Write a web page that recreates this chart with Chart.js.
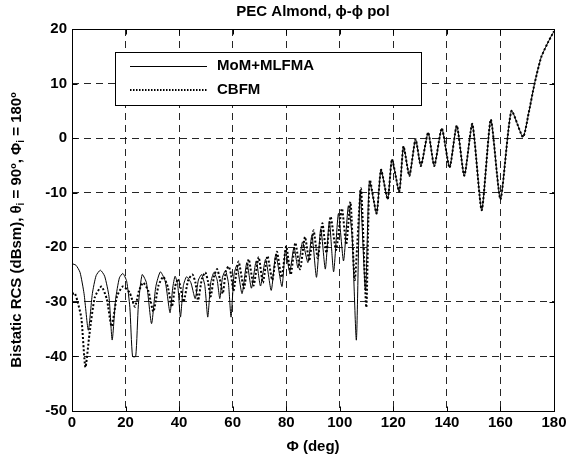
<!DOCTYPE html>
<html lang="en">
  <head>
    <meta charset="UTF-8" />
    <title>PEC Almond bistatic RCS</title>
    <script src="https://cdnjs.cloudflare.com/ajax/libs/Chart.js/4.4.1/chart.umd.min.js"></script>
  </head>
  <style>
    body {
      margin: 0;
      background-color: #ffffff;
    }
  </style>
  <body>
    <canvas id="rcsChart" width="571" height="459"></canvas>

    <script>
      // axis ticks
      const xTicks = [0, 20, 40, 60, 80, 100, 120, 140, 160, 180];
      const yTicks = [20, 10, 0, -10, -20, -30, -40, -50];

      // MoM+MLFMA (solid) - angles / values
      const momPhi = [0, 1.5, 3, 4.5, 6.1, 7.6, 9, 10.6, 12.2, 13.8, 15, 16.3, 17.7, 19, 20.4, 21.6, 22.6, 23.8, 24.8, 26.2, 27.8, 29.7, 31.3, 33, 34.8, 36.6, 37.6, 38.5, 39.5, 40.5, 41.6, 42.8, 44.4, 46, 47.2, 48.4, 49.6, 50.7, 51.8, 53, 54.2, 55.2, 56.2, 57.3, 58.4, 59.4, 60.5, 61.6, 63.5, 65.3, 67, 68.8, 70.4, 72.3, 74.4, 76.1, 78.4, 79.7, 81.3, 82.9, 84.4, 86.1, 88.1, 89.6, 91.3, 92.9, 94.6, 96.1, 97.7, 99.5, 101.4, 103.2, 104.6, 106.2, 107.6, 109.6, 111.1];
      const momRcs = [-23, -23.3, -24.6, -28.5, -35.2, -28.5, -25.2, -24.2, -25.3, -29, -37, -29.5, -25.6, -24.8, -26.2, -31, -40, -40, -30.5, -25, -26.5, -34, -27.2, -24.5, -26.2, -32, -27.5, -25.3, -27, -32.8, -27, -25.4, -26.5, -29.4, -26, -25, -27, -32.8, -26.5, -24.6, -26, -29.4, -25.5, -24.3, -26.5, -32.8, -25, -23.3, -28.5, -22.8, -27.5, -22.5, -27.1, -22.2, -27.9, -21.4, -27.2, -20.5, -24.5, -20, -23.8, -19, -22.8, -17.8, -25.5, -16.6, -24, -15.2, -24.5, -13.8, -22.5, -12.4, -18, -37, -9.6, -28, -7.9];

      // CBFM (dotted)
      const cbfmPhi = [0, 1, 2, 3.5, 5, 6.5, 8.5, 11, 13, 14.8, 16.8, 19, 21.5, 23.5, 25, 26.6, 28.5, 30.4, 32.3, 34.1, 35.8, 37.3, 38.5, 39.6, 40.6, 41.7, 43.4, 45, 46.1, 47.1, 48.5, 49.8, 50.8, 51.8, 53.1, 54.2, 55.2, 56.3, 57.5, 58.5, 59.4, 60.3, 62.2, 64.2, 66, 67.8, 69.7, 71.3, 73, 74.8, 76.5, 78.3, 80, 81.7, 83.4, 85.2, 87, 88.6, 90.2, 91.8, 93.5, 95, 96.6, 98.6, 100.8, 102.4, 104, 105.6, 107.9, 109.9, 111.2];
      const cbfmRcs = [-28.6, -28.4, -29.8, -33, -42, -36, -29.2, -27.2, -29.5, -34.5, -29, -27.2, -28.3, -30.9, -28, -26.5, -28, -31.8, -27, -25.4, -27.3, -30.9, -27.2, -25.8, -27.5, -30, -26, -25, -26.5, -29.7, -25.8, -24.6, -26.3, -29, -25.2, -24, -25.8, -28.5, -24.3, -23.5, -25, -28, -22.6, -27.5, -22.2, -27, -21.8, -26.5, -21.6, -26, -20.8, -25.5, -19.8, -25, -19.2, -24, -18.1, -22.5, -16.9, -22, -15.6, -21, -14.4, -20.5, -12.9, -19.5, -11.7, -26, -9.2, -31, -7.7];

      // beyond ~112 deg both methods give the same curve
      const tailPhi = [113.75, 115.4, 117.9, 119.5, 122.2, 123.8, 126, 128.3, 130.3, 133, 135.3, 138.1, 141, 143.7, 146.5, 149.5, 153, 156.4, 160, 164.1, 168.4, 170.5, 172.7, 175.2, 177.7, 180];
      const tailRcs = [-13.8, -5.8, -11.2, -3.9, -9.8, -1.5, -6.9, -0.2, -5.1, 1, -5.1, 1.8, -5.4, 2.3, -6.9, 2.6, -13.2, 3.4, -11.2, 5, 0.2, 4.5, 9.9, 14.8, 17.5, 19.6];

      const toPoints = (xs, ys) => xs.map((v, i) => ({ x: v, y: ys[i] }));

      const FONT = "'Liberation Sans', Arial, sans-serif";
      const LABEL = "bold 15px " + FONT;

      // frame, inner ticks, legend and titles (MATLAB look)
      const matlabFrame = {
        id: "matlabFrame",
        afterDatasetsDraw(chart) {
          const { ctx, chartArea: a, scales } = chart;
          const x = scales.x;
          const y = scales.y;
          ctx.save();
          ctx.strokeStyle = "#000";
          ctx.lineWidth = 1;
          ctx.setLineDash([]);

          const L = Math.round(a.left) + 0.5;
          const R = Math.round(a.right) + 0.5;
          const T = Math.round(a.top) + 0.5;
          const B = Math.round(a.bottom) + 0.5;
          ctx.strokeRect(L, T, R - L, B - T);

          ctx.beginPath();
          xTicks.forEach((v) => {
            const px = Math.round(x.getPixelForValue(v)) + 0.5;
            ctx.moveTo(px, T);
            ctx.lineTo(px, T + 5);
            ctx.moveTo(px, B);
            ctx.lineTo(px, B - 5);
          });
          yTicks.forEach((v) => {
            const py = Math.round(y.getPixelForValue(v)) + 0.5;
            ctx.moveTo(L, py);
            ctx.lineTo(L + 5, py);
            ctx.moveTo(R, py);
            ctx.lineTo(R - 5, py);
          });
          ctx.stroke();

          // legend box
          ctx.fillStyle = "#fff";
          ctx.fillRect(115.5, 52.5, 306, 53);
          ctx.strokeRect(115.5, 52.5, 306, 53);
          ctx.beginPath();
          ctx.moveTo(130, 66.5);
          ctx.lineTo(207, 66.5);
          ctx.stroke();
          ctx.lineWidth = 2;
          ctx.setLineDash([1.5, 1.5]);
          ctx.beginPath();
          ctx.moveTo(130, 90);
          ctx.lineTo(207, 90);
          ctx.stroke();
          ctx.setLineDash([]);
          ctx.fillStyle = "#000";
          ctx.font = LABEL;
          ctx.textBaseline = "middle";
          ctx.textAlign = "left";
          ctx.fillText("MoM+MLFMA", 217, 66);
          ctx.fillText("CBFM", 217, 90);

          // titles
          const cx = (a.left + a.right) / 2;
          ctx.textAlign = "center";
          ctx.fillText("PEC Almond, \u03d5-\u03d5 pol", cx, 12);
          ctx.fillText("\u03a6 (deg)", cx, 447);

          // rotated y title with subscripts
          const parts = [
            ["Bistatic RCS (dBsm), \u03b8", false],
            ["i", true],
            [" = 90\u00ba, \u03a6", false],
            ["i", true],
            [" = 180\u00ba", false],
          ];
          const small = "bold 10px " + FONT;
          let total = 0;
          parts.forEach(([t, sub]) => {
            ctx.font = sub ? small : LABEL;
            total += ctx.measureText(t).width;
          });
          ctx.translate(17, 230);
          ctx.rotate(-Math.PI / 2);
          ctx.textAlign = "left";
          let pos = -total / 2;
          parts.forEach(([t, sub]) => {
            ctx.font = sub ? small : LABEL;
            ctx.fillText(t, pos, sub ? 4 : 0);
            pos += ctx.measureText(t).width;
          });
          ctx.restore();
        },
      };

      const ctx = document.getElementById("rcsChart").getContext("2d");

      const rcsChart = new Chart(ctx, {
        type: "line",
        data: {
          datasets: [
            {
              label: "MoM+MLFMA",
              data: toPoints(momPhi.concat(tailPhi), momRcs.concat(tailRcs)),
              borderColor: "#000",
              borderWidth: 1,
              pointRadius: 0,
              tension: 0.2,
              fill: false,
            },
            {
              label: "CBFM",
              data: toPoints(cbfmPhi.concat(tailPhi), cbfmRcs.concat(tailRcs)),
              borderColor: "#000",
              borderWidth: 2,
              borderDash: [2, 2],
              pointRadius: 0,
              tension: 0.2,
              fill: false,
            },
          ],
        },
        options: {
          responsive: false,
          animation: false,
          layout: {
            padding: { left: 0, top: 29, right: 17, bottom: 0 },
          },
          scales: {
            x: {
              type: "linear",
              min: 0,
              max: 180,
              afterBuildTicks: (scale) => {
                scale.ticks = xTicks.map((v) => ({ value: v }));
              },
              afterFit: (scale) => {
                scale.height = 48;
              },
              ticks: {
                color: "#000",
                padding: 3,
                maxRotation: 0,
                font: { family: FONT, size: 15, weight: "bold" },
              },
              grid: {
                color: "rgba(0,0,0,0.85)",
                drawTicks: false,
              },
              border: { display: false, dash: [7, 5] },
            },
            y: {
              type: "linear",
              min: -50,
              max: 20,
              afterBuildTicks: (scale) => {
                scale.ticks = yTicks.map((v) => ({ value: v }));
              },
              afterFit: (scale) => {
                scale.width = 72;
              },
              ticks: {
                color: "#000",
                padding: 5,
                font: { family: FONT, size: 15, weight: "bold" },
              },
              grid: {
                color: "rgba(0,0,0,0.85)",
                drawTicks: false,
              },
              border: { display: false, dash: [7, 5] },
            },
          },
          plugins: {
            legend: { display: false },
            tooltip: { enabled: false },
          },
        },
        plugins: [matlabFrame],
      });
    </script>
  </body>
</html>
